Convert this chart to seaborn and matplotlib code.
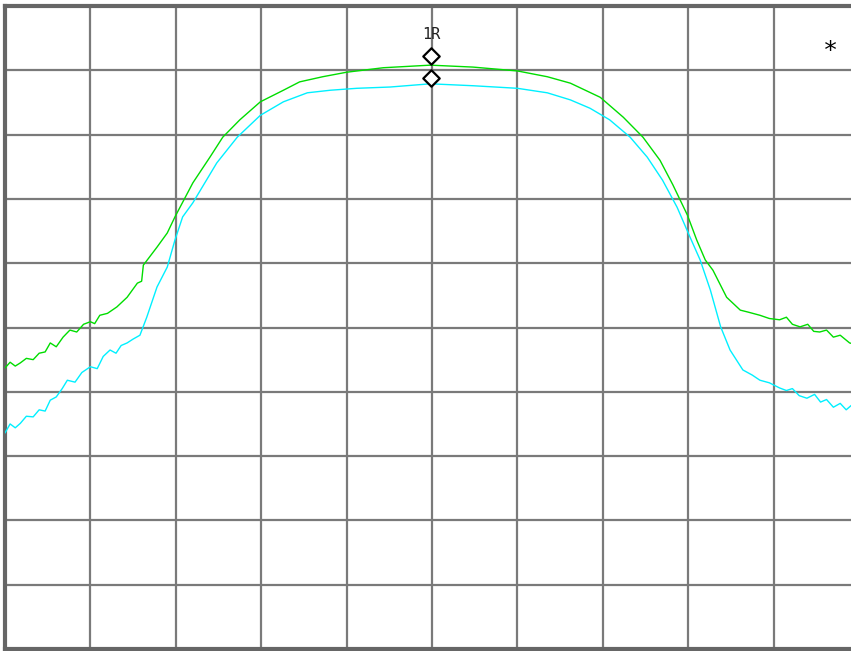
import pandas as pd
import matplotlib
matplotlib.use('Agg')
import matplotlib.pyplot as plt
import seaborn as sns

# Trace values in screen divisions (10 x 10 grid)
green_x = [0.00, 0.06, 0.12, 0.18, 0.25, 0.33, 0.40, 0.47, 0.53, 0.60, 0.68, 0.76, 0.84, 0.92,
           1.00, 1.05, 1.11, 1.20, 1.31, 1.43, 1.55, 1.60, 1.62, 1.78, 1.90, 1.99, 2.20, 2.40,
           2.55, 2.75, 2.99, 3.26, 3.45, 3.72, 4.00, 4.43, 4.98, 5.48, 6.00, 6.35, 6.62, 6.97,
           7.24, 7.47, 7.67, 7.82, 7.99, 8.10, 8.20, 8.29, 8.45, 8.61, 8.70, 8.84, 8.95, 9.07,
           9.15, 9.22, 9.31, 9.40, 9.47, 9.54, 9.62, 9.70, 9.78, 9.89, 10.0]
green_y = [4.37, 4.46, 4.40, 4.45, 4.52, 4.50, 4.60, 4.62, 4.76, 4.70, 4.85, 4.96, 4.93, 5.05,
           5.09, 5.06, 5.19, 5.22, 5.32, 5.47, 5.69, 5.72, 5.97, 6.25, 6.47, 6.72, 7.25, 7.65,
           7.96, 8.23, 8.51, 8.69, 8.82, 8.90, 8.97, 9.04, 9.08, 9.05, 8.99, 8.90, 8.80, 8.58,
           8.27, 7.96, 7.60, 7.22, 6.75, 6.36, 6.05, 5.89, 5.47, 5.27, 5.24, 5.19, 5.14, 5.12,
           5.16, 5.05, 5.01, 5.05, 4.94, 4.93, 4.96, 4.85, 4.88, 4.76, 4.72]

cyan_x = [0.00, 0.06, 0.12, 0.18, 0.25, 0.33, 0.40, 0.47, 0.53, 0.60, 0.67, 0.73, 0.82, 0.90,
          1.00, 1.08, 1.15, 1.23, 1.30, 1.36, 1.43, 1.50, 1.58, 1.66, 1.78, 1.90, 1.99, 2.08,
          2.20, 2.48, 2.72, 2.99, 3.26, 3.54, 3.81, 4.12, 4.51, 4.98, 5.48, 6.00, 6.35, 6.62,
          6.85, 7.08, 7.32, 7.52, 7.70, 7.87, 8.02, 8.14, 8.26, 8.38, 8.49, 8.64, 8.75, 8.84,
          8.95, 9.07, 9.15, 9.22, 9.30, 9.39, 9.48, 9.55, 9.62, 9.70, 9.78, 9.85, 9.92, 10.0]
cyan_y = [3.36, 3.50, 3.44, 3.51, 3.62, 3.61, 3.72, 3.70, 3.87, 3.92, 4.05, 4.18, 4.15, 4.30,
          4.39, 4.36, 4.55, 4.65, 4.60, 4.72, 4.76, 4.82, 4.88, 5.16, 5.63, 5.94, 6.36, 6.72,
          6.94, 7.56, 7.96, 8.30, 8.51, 8.65, 8.69, 8.72, 8.74, 8.79, 8.76, 8.72, 8.65, 8.54,
          8.41, 8.23, 7.96, 7.65, 7.29, 6.87, 6.41, 6.05, 5.58, 5.01, 4.65, 4.34, 4.26, 4.18,
          4.14, 4.06, 4.02, 4.05, 3.94, 3.90, 3.96, 3.84, 3.88, 3.76, 3.82, 3.72, 3.80, 3.75]

# marker diamonds and annotation text
marker_x = [4.99, 4.99]
marker_y = [9.22, 8.88]
marker_label = '1R'
star_label = '*'

df = pd.concat([
    pd.DataFrame({'x': green_x, 'y': green_y, 'trace': 'green'}),
    pd.DataFrame({'x': cyan_x, 'y': cyan_y, 'trace': 'cyan'}),
], ignore_index=True)

sns.set_style('white')
plt.rcParams['font.family'] = ['DejaVu Sans Mono', 'DejaVu Sans']

fig = plt.figure(figsize=(8.51, 6.51), dpi=100)
# axes runs a little past the right edge of the picture, like the cropped screen
ax = fig.add_axes([5 / 851, 2 / 651, 854 / 851, 643 / 651])

sns.lineplot(data=df, x='x', y='y', hue='trace', palette={'green': '#00dd00', 'cyan': '#00f0ff'},
             estimator=None, sort=False, linewidth=1.0, legend=False, ax=ax, zorder=3)

ax.scatter(marker_x, marker_y, marker='D', s=70, facecolors='white', edgecolors='black',
           linewidths=1.6, zorder=5)
ax.text(4.99, 9.55, marker_label, ha='center', va='center', fontsize=11, color='#222222')
ax.text(9.67, 9.30, star_label, ha='center', va='center', fontsize=18, color='black')

ax.set_xlim(0, 10)
ax.set_ylim(0, 10)
ax.set_xticks(range(11))
ax.set_yticks(range(11))
ax.grid(True, color='#7a7a7a', linewidth=1.6, zorder=1)
ax.set_axisbelow(True)
ax.tick_params(length=0, labelbottom=False, labelleft=False)
ax.set_xlabel('')
ax.set_ylabel('')
for side in ['left', 'top', 'bottom', 'right']:
    ax.spines[side].set_color('#666666')
    ax.spines[side].set_linewidth(3)

fig.savefig('out.png', dpi=100)
